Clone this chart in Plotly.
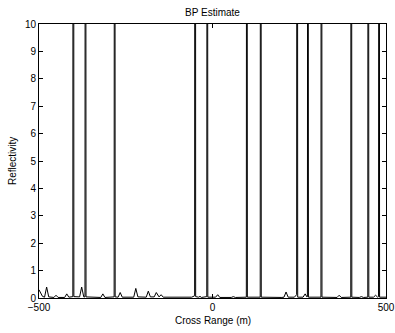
import plotly.graph_objects as go

# Cross range positions (m) and reflectivity values
cross_range = [-500, -496, -490, -484, -478, -472, -457, -451, -445, -426, -420, -414,
               -402.5, -401, -399.5, -383, -377, -371, -367.5, -366, -364.5,
               -322, -316, -310, -283.5, -282, -280.5, -272, -266, -260,
               -227, -221, -215, -191, -185, -179, -168, -162, -156, -154, -148, -142,
               -60, -54, -51.5, -50, -48.5, -40, -36, -32, -19, -16.5, -15, -13.5,
               9, 15, 21, 54, 60, 66, 97.5, 99, 100.5, 137.5, 139, 140.5,
               200, 206, 212, 218, 236, 240, 242.5, 244, 245.5,
               261, 267, 272, 273.5, 275, 276.5, 312.5, 314, 315.5,
               359, 365, 371, 398.5, 400, 401.5, 423, 429, 435, 447.5, 449, 450.5,
               464, 470, 476, 478.5, 480, 481.5, 500]
reflectivity = [0.30, 0.20, 0.06, 0.03, 0.40, 0.04, 0.02, 0.10, 0.02, 0.02, 0.15, 0.03,
                0.05, 60, 0.05, 0.04, 0.40, 0.04, 0.04, 50, 0.04,
                0.02, 0.15, 0.02, 0.04, 45, 0.04, 0.03, 0.20, 0.03,
                0.03, 0.35, 0.04, 0.03, 0.25, 0.04, 0.04, 0.20, 0.04, 0.04, 0.12, 0.03,
                0.03, 0.06, 0.08, 70, 0.05, 0.03, 0.06, 0.02, 0.03, 0.05, 40, 0.03,
                0.03, 0.12, 0.02, 0.02, 0.05, 0.02, 0.03, 45, 0.03, 0.03, 50, 0.03,
                0.02, 0.03, 0.22, 0.03, 0.03, 0.10, 0.12, 55, 0.03,
                0.03, 0.15, 0.04, 0.05, 40, 0.03, 0.03, 45, 0.03,
                0.02, 0.10, 0.02, 0.03, 50, 0.03, 0.02, 0.05, 0.02, 0.03, 45, 0.03,
                0.03, 0.10, 0.03, 0.05, 40, 0.03, 0.03]

x_ticks = [-500, 0, 500]
y_ticks = [0, 1, 2, 3, 4, 5, 6, 7, 8, 9, 10]

FONT = "Liberation Sans, Arial, Helvetica, sans-serif"

fig = go.Figure()
fig.add_trace(go.Scatter(x=cross_range, y=reflectivity, mode="lines",
                         line=dict(color="black", width=1), showlegend=False))

axis_common = dict(showline=True, linecolor="black", linewidth=1, mirror="ticks",
                   ticks="inside", ticklen=4, tickcolor="black", tickwidth=1,
                   showgrid=False, zeroline=False, automargin=False,
                   tickfont=dict(family=FONT, size=10, color="black"))

fig.update_layout(
    width=395, height=333,
    margin=dict(l=39, r=9, t=24, b=35),
    paper_bgcolor="white", plot_bgcolor="white",
    xaxis=dict(range=[-500, 500], tickvals=x_ticks, **axis_common),
    yaxis=dict(range=[0, 10], tickvals=y_ticks, **axis_common),
    title=dict(text="BP Estimate", x=0.5 + (39 - 9) / 2 / 395, xanchor="center",
               yref="container", y=1 - 12.5 / 333, yanchor="middle",
               font=dict(family=FONT, size=10, color="black")),
    annotations=[
        dict(text="Cross Range (m)", xref="paper", yref="paper", x=0.5, y=0,
             yshift=-22, yanchor="middle", showarrow=False,
             font=dict(family=FONT, size=10, color="black")),
        dict(text="Reflectivity", xref="paper", yref="paper", x=0, y=0.5,
             xshift=-27, xanchor="center", yanchor="middle", textangle=-90,
             showarrow=False, font=dict(family=FONT, size=10, color="black")),
    ],
)

fig.write_html("out.html")
